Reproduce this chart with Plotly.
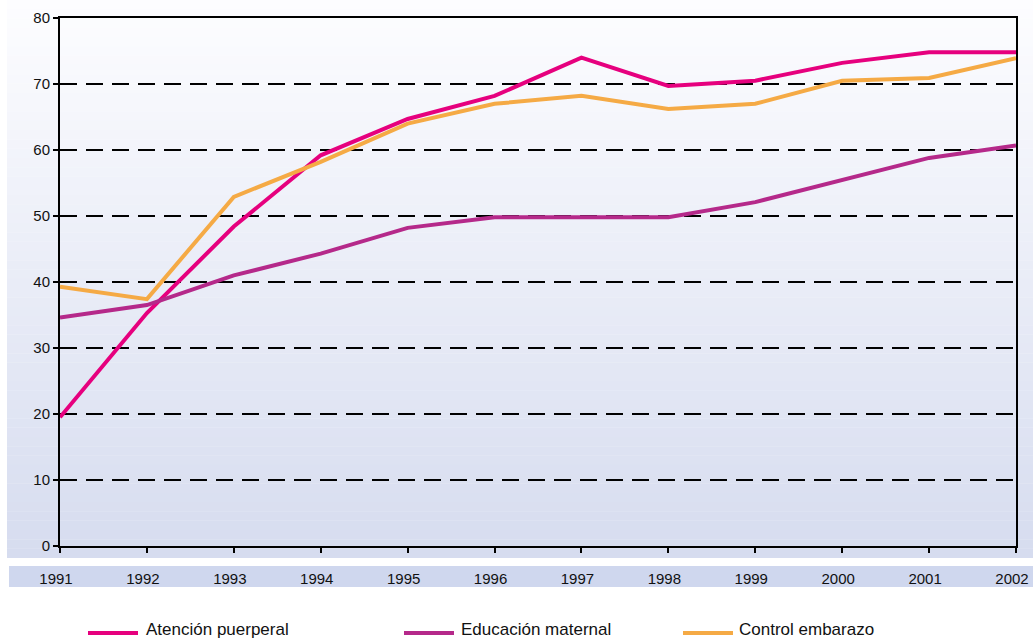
import plotly.graph_objects as go

years = [1991, 1992, 1993, 1994, 1995, 1996, 1997, 1998, 1999, 2000, 2001, 2002]
atencion = [19.5, 35.3, 48.4, 59.2, 64.7, 68.2, 74.0, 69.7, 70.5, 73.2, 74.8, 74.8]
educacion = [34.6, 36.5, 41.0, 44.3, 48.2, 49.8, 49.8, 49.8, 52.1, 55.5, 58.8, 60.7]
control = [39.3, 37.4, 52.9, 58.2, 64.0, 67.0, 68.2, 66.2, 67.0, 70.5, 70.9, 73.9]

names = ["Atención puerperal", "Educación maternal", "Control embarazo"]
colors = ["#e6007e", "#b5298a", "#f5aa45"]
series = [atencion, educacion, control]

W, H = 1033, 642
L, R, T, B = 60, 17, 18, 96
PW, PH = W - L - R, H - T - B


def px_x(px):
    return (px - L) / PW


def px_y(py):
    return (T + PH - py) / PH


fig = go.Figure()
for name, col, ys in zip(names, colors, series):
    fig.add_trace(go.Scatter(x=years, y=ys, mode="lines", name=name,
                             line=dict(color=col, width=4), showlegend=False,
                             cliponaxis=False, hoverinfo="skip"))

shapes = []
# background gradient
n = 60
top_c = (253, 253, 255)
bot_c = (214, 220, 239)
y0p, y1p = 0, 558
for i in range(n):
    a = y0p + (y1p - y0p) * i / n
    b = y0p + (y1p - y0p) * (i + 1) / n
    t = (i + 0.5) / n
    c = tuple(round(top_c[k] + (bot_c[k] - top_c[k]) * t) for k in range(3))
    shapes.append(dict(type="rect", xref="paper", yref="paper", layer="below",
                       x0=px_x(7), x1=px_x(1033), y0=px_y(b), y1=px_y(a) + 0.0005,
                       fillcolor="rgb(%d,%d,%d)" % c, line=dict(width=0)))
# x label band
shapes.append(dict(type="rect", xref="paper", yref="paper", layer="below",
                   x0=px_x(9), x1=px_x(1033), y0=px_y(587), y1=px_y(566),
                   fillcolor="#cfd7ee", line=dict(width=0)))

annotations = []
# manual legend
leg_items = [(88, 138, 144), (404, 454, 459), (683, 733, 737)]
for (lx0, lx1, tx), name, col in zip(leg_items, names, colors):
    shapes.append(dict(type="line", xref="paper", yref="paper",
                       x0=px_x(lx0), x1=px_x(lx1), y0=px_y(633), y1=px_y(633),
                       line=dict(color=col, width=4)))
    annotations.append(dict(xref="paper", yref="paper", x=px_x(tx), y=px_y(629),
                            text=name, showarrow=False, xanchor="left", yanchor="middle",
                            font=dict(size=17, color="#111111")))

fig.update_layout(
    width=W, height=H,
    margin=dict(l=L, r=R, t=T, b=B, autoexpand=False),
    paper_bgcolor="white",
    plot_bgcolor="rgba(0,0,0,0)",
    font=dict(family="Liberation Sans, Arial, sans-serif", size=15, color="#111111"),
    shapes=shapes,
    annotations=annotations,
    showlegend=False,
)
fig.update_xaxes(
    range=[1991, 2002], tickmode="array", tickvals=years, ticktext=[str(y) for y in years],
    showgrid=False, zeroline=False, showline=True, linecolor="black", linewidth=2,
    mirror=True, ticks="outside", ticklen=5, tickwidth=2, tickcolor="black",
    ticklabelstandoff=13, ticklabelshift=-4, tickfont=dict(size=15, color="#111111"),
    automargin=False,
)
fig.update_yaxes(
    range=[0, 80], tickmode="array", tickvals=list(range(0, 81, 10)),
    showgrid=True, gridcolor="black", gridwidth=1.5, griddash="17px,9px",
    zeroline=False, showline=True, linecolor="black", linewidth=2, mirror=True,
    ticks="outside", ticklen=5, tickwidth=2, tickcolor="black",
    tickfont=dict(size=15, color="#111111"), automargin=False,
)

fig.write_html("out.html", config={"displayModeBar": False},
               post_script="document.body.style.margin='0';document.body.style.overflow='hidden';")
